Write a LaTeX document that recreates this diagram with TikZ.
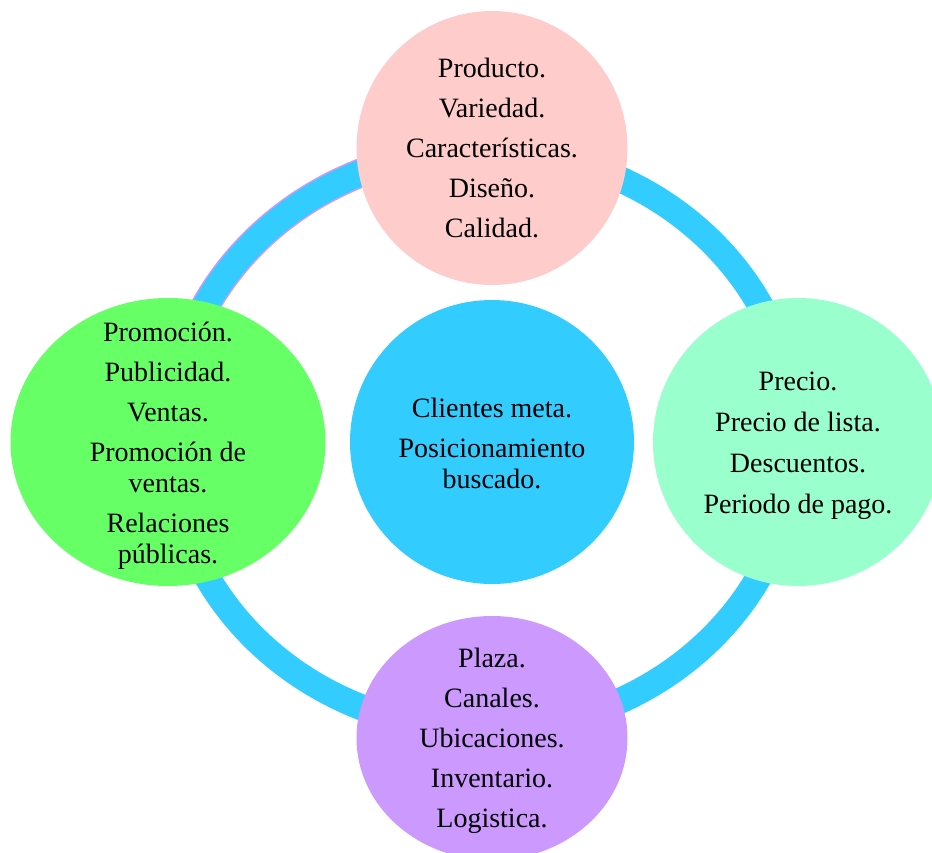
\documentclass[tikz,border=0pt]{standalone}
\usepackage{fontspec}
\setmainfont{Liberation Serif}
\usetikzlibrary{shapes.geometric}
\definecolor{ringblue}{HTML}{33CCFF}
\definecolor{toppink}{HTML}{FFCCCC}
\definecolor{leftgreen}{HTML}{66FF66}
\definecolor{rightmint}{HTML}{99FFCC}
\definecolor{botviolet}{HTML}{CC99FF}
\tikzset{
  blob/.style={ellipse, draw=none, inner sep=0pt},
  txt/.style={align=center, inner sep=0pt, font=\fontsize{28}{31}\selectfont, text=black},
}
\begin{document}
\begin{tikzpicture}[x=1pt,y=-1pt]
\useasboundingbox (0,0) rectangle (932,852);
\coordinate (ringc) at (483,440);
% ring
\draw[botviolet, line width=29pt] (ringc) ++(180:313 and 290) arc[start angle=180, end angle=270, x radius=313, y radius=290];
\draw[ringblue, line width=26pt] (ringc) ellipse[x radius=313, y radius=290];
% shapes
\node[blob, fill=ringblue, minimum width=284pt, minimum height=284pt] (center) at (492,442) {};
\node[blob, fill=toppink, minimum width=271pt, minimum height=274pt] (top) at (492,148) {};
\node[blob, fill=leftgreen, minimum width=315pt, minimum height=288pt] (left) at (168,442) {};
\node[blob, fill=rightmint, minimum width=290pt, minimum height=288pt] (right) at (798,442) {};
\node[blob, fill=botviolet, minimum width=271pt, minimum height=244pt] (bottom) at (492,738) {};
% texts
\node[txt] (centerT) at ([yshift=-1.5pt]center.center) {Clientes meta.\\[9pt]Posicionamiento\\buscado.};
\node[txt] (topT) at (top) {Producto.\\[9pt]Variedad.\\[9pt]Características.\\[9pt]Diseño.\\[9pt]Calidad.};
\node[txt] (leftT) at ([yshift=-4pt]left.center) {Promoción.\\[9pt]Publicidad.\\[9pt]Ventas.\\[9pt]Promoción de\\ventas.\\[9pt]Relaciones\\públicas.};
\node[txt] (rightT) at ([yshift=-4pt]right.center) {Precio.\\[10pt]Precio de lista.\\[10pt]Descuentos.\\[10pt]Periodo de pago.};
\node[txt] (bottomT) at ([yshift=-3pt]bottom.center) {Plaza.\\[9pt]Canales.\\[9pt]Ubicaciones.\\[9pt]Inventario.\\[9pt]Logistica.};
\end{tikzpicture}
\end{document}
